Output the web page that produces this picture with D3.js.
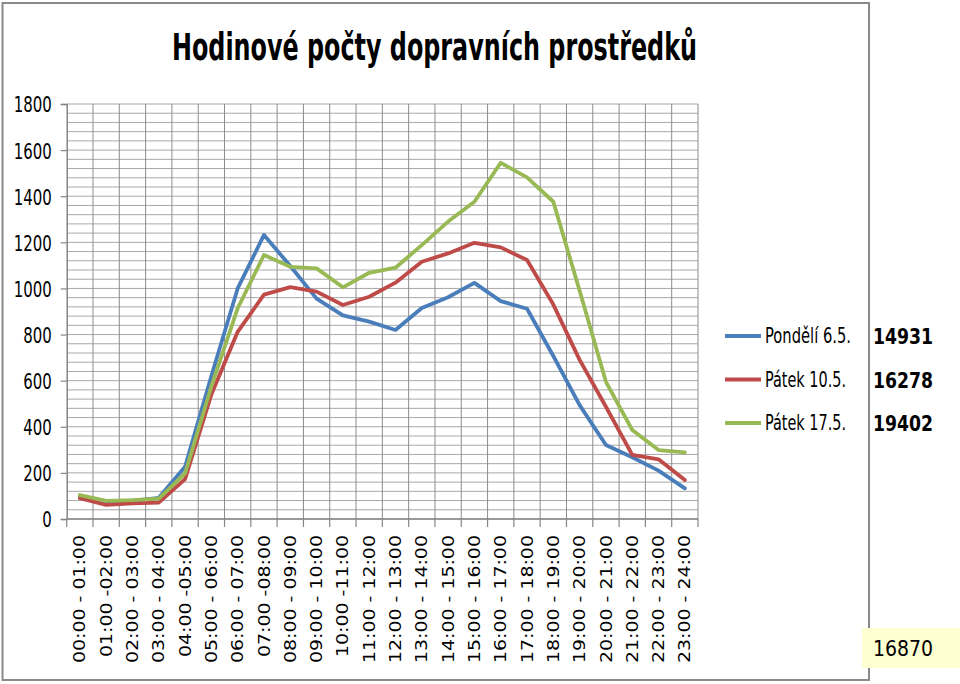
<!DOCTYPE html>
<html>
<head>
<meta charset="utf-8">
<script src="https://cdn.jsdelivr.net/npm/d3@7"></script>
<style>
  html, body { margin: 0; padding: 0; background: #fff; }
  svg { display: block; }
</style>
</head>
<body>
<svg id="chart" width="960" height="684"></svg>
<script>
// ---------------- data ----------------
const categories = [
  "00:00 - 01:00", "01:00 -02:00", "02:00 - 03:00", "03:00 - 04:00",
  "04:00 -05:00", "05:00 - 06:00", "06:00 - 07:00", "07:00 -08:00",
  "08:00 - 09:00", "09:00 - 10:00", "10:00 -11:00", "11:00 - 12:00",
  "12:00 - 13:00", "13:00 - 14:00", "14:00 - 15:00", "15:00 - 16:00",
  "16:00 - 17:00", "17:00 - 18:00", "18:00 - 19:00", "19:00 - 20:00",
  "20:00 - 21:00", "21:00 - 22:00", "22:00 - 23:00", "23:00 - 24:00"
];
const pondeli65 = [100, 78, 79, 92, 227, 620, 1000, 1232, 1097, 956, 883, 856,
                   820, 915, 962, 1024, 945, 912, 707, 494, 321, 268, 210, 133];
const patek105  = [90, 61, 68, 71, 173, 540, 812, 973, 1006, 986, 928, 964,
                   1025, 1116, 1152, 1198, 1178, 1123, 930, 690, 487, 278, 259, 169];
const patek175  = [104, 79, 82, 88, 198, 575, 914, 1145, 1094, 1087, 1005, 1068,
                   1090, 1188, 1290, 1376, 1545, 1482, 1376, 990, 595, 386, 299, 289];
const seriesNames = ["Pondělí 6.5.", "Pátek 10.5.", "Pátek 17.5."];
const seriesTotals = ["14931", "16278", "19402"];
const seriesColors = ["#4A7EBB", "#BE4B48", "#98B954"];
const yTicks = [0, 200, 400, 600, 800, 1000, 1200, 1400, 1600, 1800];
const yMinorStep = 40;
const titleText = "Hodinové počty dopravních prostředků";
const overallTotal = "16870";

// ---------------- layout ----------------
const svg = d3.select("#chart");
const plot = { left: 66.7, right: 698, top: 104, bottom: 519 };
const narrow = "'Liberation Sans Narrow', 'DejaVu Sans Condensed', 'Open Sans', sans-serif";

const x = d3.scaleBand().domain(categories).range([plot.left, plot.right]).padding(0);
const y = d3.scaleLinear().domain([0, 1800]).range([plot.bottom, plot.top]);

// outer chart border
svg.append("rect")
  .attr("x", 2.5).attr("y", 3).attr("width", 866.5).attr("height", 677)
  .attr("fill", "#fff").attr("stroke", "#8a8a8a").attr("stroke-width", 2);

// title (slightly stretched vertically like the reference)
svg.append("text")
  .attr("transform", "translate(172,60) scale(1,1.15)")
  .attr("font-family", narrow).attr("font-weight", "bold")
  .attr("font-size", 33)
  .attr("textLength", 525).attr("lengthAdjust", "spacingAndGlyphs")
  .attr("fill", "#000")
  .text(titleText);

// horizontal gridlines (every 40)
const minorVals = d3.range(0, 1800 + 1, yMinorStep);
svg.append("g").selectAll("line").data(minorVals).join("line")
  .attr("x1", plot.left).attr("x2", plot.right)
  .attr("y1", d => y(d)).attr("y2", d => y(d))
  .attr("stroke", "#a8a8a8").attr("stroke-width", 1);

// vertical gridlines at category boundaries
const bounds = categories.map(c => x(c)).concat([plot.right]);
svg.append("g").selectAll("line").data(bounds.slice(1)).join("line")
  .attr("x1", d => d).attr("x2", d => d)
  .attr("y1", plot.top).attr("y2", plot.bottom)
  .attr("stroke", "#8c8c8c").attr("stroke-width", 1);

// x axis with tick marks at boundaries
const xAxisG = svg.append("g");
xAxisG.append("line")
  .attr("x1", plot.left).attr("x2", plot.right)
  .attr("y1", plot.bottom).attr("y2", plot.bottom)
  .attr("stroke", "#868686").attr("stroke-width", 1.5);
xAxisG.selectAll("line.tk").data(bounds).join("line").attr("class", "tk")
  .attr("x1", d => d).attr("x2", d => d)
  .attr("y1", plot.bottom).attr("y2", plot.bottom + 8)
  .attr("stroke", "#868686").attr("stroke-width", 1.2);

// x labels (rotated)
svg.append("g").selectAll("text").data(categories).join("text")
  .attr("transform", d => `translate(${x(d) + x.bandwidth() / 2},535) scale(1,1.185) rotate(-90)`)
  .attr("text-anchor", "end")
  .attr("dy", "0.35em")
  .attr("font-family", "'DejaVu Sans', Verdana, sans-serif")
  .attr("font-size", 16)
  .attr("fill", "#000")
  .text(d => d);

// y axis
const yAxis = d3.axisLeft(y).tickValues(yTicks).tickSize(6).tickPadding(9).tickFormat(d3.format("d"));
const yG = svg.append("g").attr("transform", `translate(${plot.left},0)`).call(yAxis);
yG.select(".domain").attr("stroke", "#868686").attr("stroke-width", 1.5);
yG.selectAll(".tick line").attr("stroke", "#868686").attr("stroke-width", 1.2);
yG.selectAll(".tick text")
  .attr("font-family", narrow).attr("font-size", 22).attr("fill", "#000")
  .attr("dy", "0.36em")
  .attr("textLength", d => String(d).length * 9.5)
  .attr("lengthAdjust", "spacingAndGlyphs");

// lines
const line = d3.line()
  .x((d, i) => x(categories[i]) + x.bandwidth() / 2)
  .y(d => y(d));
const allSeries = [pondeli65, patek105, patek175];
svg.append("g").selectAll("path").data(allSeries).join("path")
  .attr("d", d => line(d))
  .attr("fill", "none")
  .attr("stroke", (d, i) => seriesColors[i])
  .attr("stroke-width", 3.8)
  .attr("stroke-linejoin", "round")
  .attr("stroke-linecap", "round");

// legend
const legendY = [336, 379.5, 423];
const legendLens = [86, 81, 81];
const lg = svg.append("g");
lg.selectAll("line").data(seriesNames).join("line")
  .attr("x1", 725).attr("x2", 761)
  .attr("y1", (d, i) => legendY[i]).attr("y2", (d, i) => legendY[i])
  .attr("stroke", (d, i) => seriesColors[i]).attr("stroke-width", 3.8);
lg.selectAll("text").data(seriesNames).join("text")
  .attr("x", 765).attr("y", (d, i) => legendY[i] + 7)
  .attr("font-family", narrow).attr("font-size", 21).attr("fill", "#000")
  .attr("textLength", (d, i) => legendLens[i]).attr("lengthAdjust", "spacingAndGlyphs")
  .text(d => d);

// totals next to legend
svg.append("g").selectAll("text").data(seriesTotals).join("text")
  .attr("x", 873).attr("y", (d, i) => legendY[i] + 8)
  .attr("font-family", narrow).attr("font-weight", "bold").attr("font-size", 22)
  .attr("fill", "#000")
  .attr("textLength", 60).attr("lengthAdjust", "spacingAndGlyphs")
  .text(d => d);

// overall total box
svg.append("rect")
  .attr("x", 862).attr("y", 628).attr("width", 98).attr("height", 40)
  .attr("fill", "#FFFFD2");
svg.append("text")
  .attr("x", 873).attr("y", 656)
  .attr("font-family", narrow).attr("font-size", 22).attr("fill", "#000")
  .attr("textLength", 60).attr("lengthAdjust", "spacingAndGlyphs")
  .text(overallTotal);
</script>
</body>
</html>
